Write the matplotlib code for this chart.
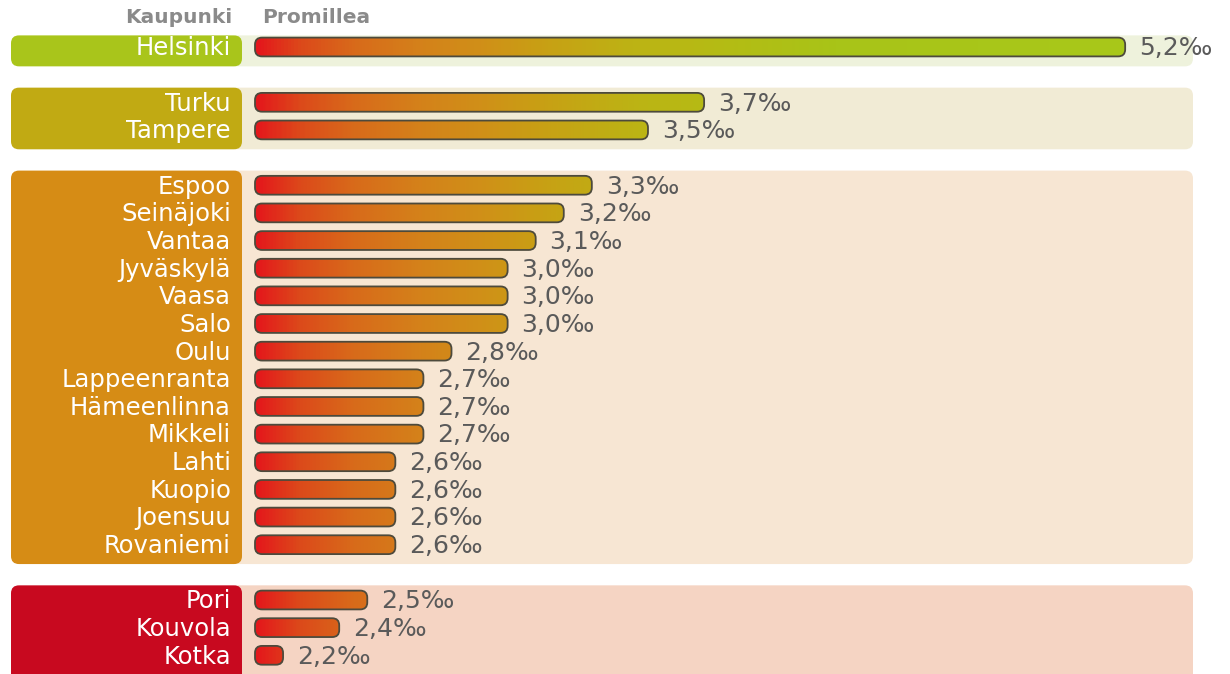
import numpy as np
import matplotlib
matplotlib.use("Agg")
import matplotlib.pyplot as plt
from matplotlib.patches import FancyBboxPatch
from matplotlib.colors import LinearSegmentedColormap, Normalize

# data: city, alcohol-related value in promille, grouped by colour band
groups = [
    ["Helsinki"],
    ["Turku", "Tampere"],
    ["Espoo", "Seinäjoki", "Vantaa", "Jyväskylä", "Vaasa", "Salo", "Oulu",
     "Lappeenranta", "Hämeenlinna", "Mikkeli", "Lahti", "Kuopio", "Joensuu",
     "Rovaniemi"],
    ["Pori", "Kouvola", "Kotka"],
]
group_values = [
    [5.2],
    [3.7, 3.5],
    [3.3, 3.2, 3.1, 3.0, 3.0, 3.0, 2.8, 2.7, 2.7, 2.7, 2.6, 2.6, 2.6, 2.6],
    [2.5, 2.4, 2.2],
]
value_labels = [[f"{v:.1f}".replace(".", ",") + "‰" for v in vals] for vals in group_values]

header_city = "Kaupunki"
header_value = "Promillea"

# styling
label_colors = ["#a9c51b", "#c1aa13", "#d68c15", "#c8091f"]
back_colors = ["#eef2dc", "#f1ebd5", "#f7e6d3", "#f5d4c3"]
base = 2.1
grad = LinearSegmentedColormap.from_list("grad", [
    (0.00, "#e4181c"), (0.05, "#dc4a1a"), (0.11, "#d86a1a"), (0.19, "#d4821a"),
    (0.26, "#d09018"), (0.33, "#c8a014"), (0.44, "#bcb414"), (0.54, "#b4bc14"),
    (0.67, "#a8c418"), (1.00, "#a8c81a"),
])
norm = Normalize(base, 5.2)

W, H = 1230, 674
row_px, first_px = 27.65, 47
px_per_unit = 280.7
ylim = ((H - first_px) / row_px, -first_px / row_px)
xlim = (base - 255 / px_per_unit, base + (W - 255) / px_per_unit)

fig = plt.figure(figsize=(W / 100, H / 100), dpi=100)
bg = fig.add_axes([0, 0, 1, 1], zorder=0)
bg.set_xlim(0, W)
bg.set_ylim(*ylim)
bg.axis("off")
ax = fig.add_axes([0, 0, 1, 1], zorder=1)
ax.set_xlim(*xlim)
ax.set_ylim(*ylim)
ax.axis("off")
ax.patch.set_visible(False)

font = "DejaVu Sans"
bar_h = 0.68
slot = 0
for gi, (names, vals, labs) in enumerate(zip(groups, group_values, value_labels)):
    slots = np.arange(slot, slot + len(names))
    top = slots[0] - (0.42 if gi == 0 else 0.53)
    bottom = slots[-1] + (0.7 if gi < len(groups) - 1 else 1.5)
    # light background panel, then coloured label panel
    bg.add_patch(FancyBboxPatch((230, top), 1193 - 230, bottom - top,
                                boxstyle="round,pad=0,rounding_size=8",
                                mutation_aspect=1 / row_px,
                                fc=back_colors[gi], ec="none"))
    bg.add_patch(FancyBboxPatch((11, top), 242 - 11, bottom - top,
                                boxstyle="round,pad=0,rounding_size=8",
                                mutation_aspect=1 / row_px,
                                fc=label_colors[gi], ec="none"))
    for y, name, v, lab in zip(slots, names, vals, labs):
        bg.text(231, y + 0.05, name, ha="right", va="center", color="white",
                fontsize=17.5, family=font)
        box = FancyBboxPatch((base, y - bar_h / 2), v - base, bar_h,
                             boxstyle="round,pad=0,rounding_size=0.025",
                             mutation_aspect=px_per_unit / row_px,
                             fc="none", ec="#4d4a3c", lw=1.3, zorder=3)
        ax.add_patch(box)
        g = norm(np.linspace(base, v, 200)).reshape(1, -1)
        im = ax.imshow(g, cmap=grad, vmin=0, vmax=1, aspect="auto",
                       extent=(base, v, y + bar_h / 2, y - bar_h / 2),
                       interpolation="bilinear", zorder=2)
        im.set_clip_path(box)
        ax.annotate(lab, (v, y + 0.05), xytext=(10, 0), textcoords="offset points",
                    ha="left", va="center", color="#5a5a5a", fontsize=18,
                    family=font)
    slot += len(names) + 1

bg.text(232, -1.05, header_city, ha="right", va="center", color="#8a8a8a",
        fontsize=14.5, fontweight="bold", family=font)
bg.text(262, -1.05, header_value, ha="left", va="center", color="#8a8a8a",
        fontsize=14.5, fontweight="bold", family=font)

fig.savefig("out.png", dpi=100, facecolor="white")
